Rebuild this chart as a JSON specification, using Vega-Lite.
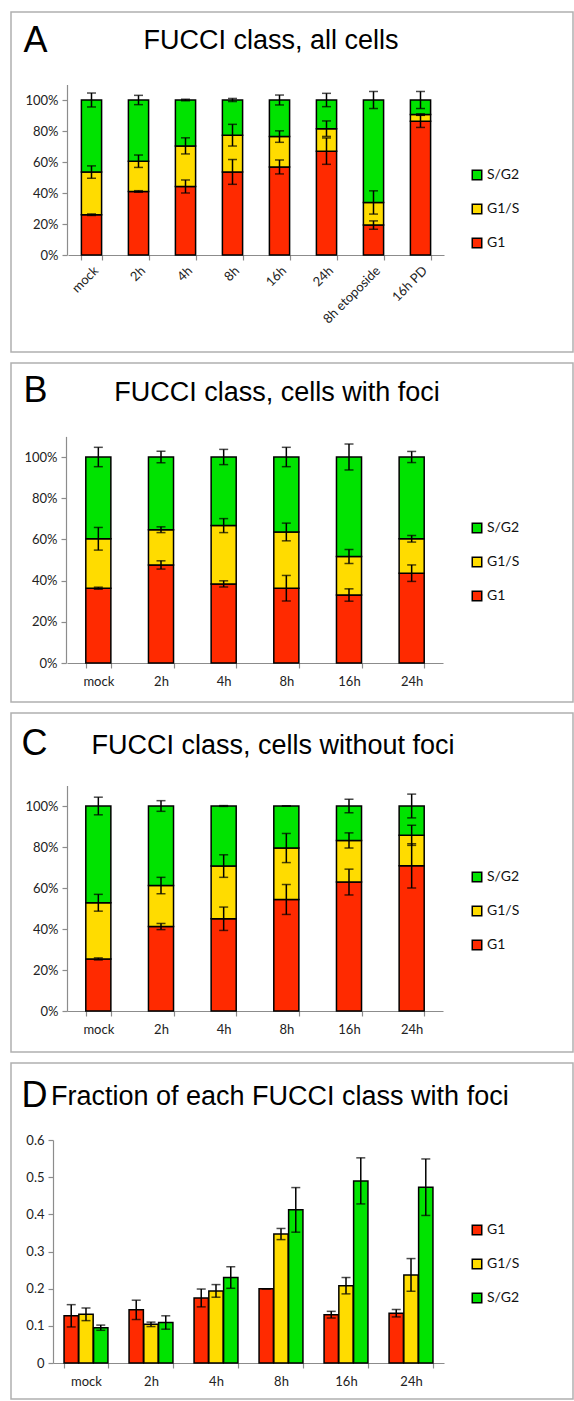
{
  "$schema": "https://vega.github.io/schema/vega-lite/v6.json",
  "padding": {"left": 10, "top": 11, "right": 0, "bottom": 0},
  "autosize": {"type": "pad"},
  "spacing": 9,
  "datasets": {
    "A": [
      {"t":"mock","cls":"G1","v":0.26,"err":0.005},
      {"t":"mock","cls":"G1/S","v":0.275,"err":0.04},
      {"t":"mock","cls":"S/G2","v":0.465,"err":0.045},
      {"t":"2h","cls":"G1","v":0.41,"err":0.005},
      {"t":"2h","cls":"G1/S","v":0.195,"err":0.04},
      {"t":"2h","cls":"S/G2","v":0.395,"err":0.03},
      {"t":"4h","cls":"G1","v":0.442,"err":0.042},
      {"t":"4h","cls":"G1/S","v":0.262,"err":0.052},
      {"t":"4h","cls":"S/G2","v":0.296,"err":0.005},
      {"t":"8h","cls":"G1","v":0.536,"err":0.08},
      {"t":"8h","cls":"G1/S","v":0.237,"err":0.07},
      {"t":"8h","cls":"S/G2","v":0.227,"err":0.01},
      {"t":"16h","cls":"G1","v":0.568,"err":0.045},
      {"t":"16h","cls":"G1/S","v":0.196,"err":0.037},
      {"t":"16h","cls":"S/G2","v":0.236,"err":0.032},
      {"t":"24h","cls":"G1","v":0.67,"err":0.085},
      {"t":"24h","cls":"G1/S","v":0.145,"err":0.05},
      {"t":"24h","cls":"S/G2","v":0.185,"err":0.043},
      {"t":"8h etoposide","cls":"G1","v":0.193,"err":0.027},
      {"t":"8h etoposide","cls":"G1/S","v":0.146,"err":0.075},
      {"t":"8h etoposide","cls":"S/G2","v":0.661,"err":0.055},
      {"t":"16h PD","cls":"G1","v":0.863,"err":0.04},
      {"t":"16h PD","cls":"G1/S","v":0.043,"err":0.005},
      {"t":"16h PD","cls":"S/G2","v":0.094,"err":0.055}
    ],
    "B": [
      {"t":"mock","cls":"G1","v":0.363,"err":0.005},
      {"t":"mock","cls":"G1/S","v":0.24,"err":0.055},
      {"t":"mock","cls":"S/G2","v":0.397,"err":0.047},
      {"t":"2h","cls":"G1","v":0.476,"err":0.02},
      {"t":"2h","cls":"G1/S","v":0.171,"err":0.014},
      {"t":"2h","cls":"S/G2","v":0.353,"err":0.028},
      {"t":"4h","cls":"G1","v":0.384,"err":0.015},
      {"t":"4h","cls":"G1/S","v":0.283,"err":0.034},
      {"t":"4h","cls":"S/G2","v":0.333,"err":0.037},
      {"t":"8h","cls":"G1","v":0.363,"err":0.062},
      {"t":"8h","cls":"G1/S","v":0.273,"err":0.043},
      {"t":"8h","cls":"S/G2","v":0.364,"err":0.047},
      {"t":"16h","cls":"G1","v":0.33,"err":0.03},
      {"t":"16h","cls":"G1/S","v":0.187,"err":0.034},
      {"t":"16h","cls":"S/G2","v":0.483,"err":0.063},
      {"t":"24h","cls":"G1","v":0.436,"err":0.04},
      {"t":"24h","cls":"G1/S","v":0.167,"err":0.016},
      {"t":"24h","cls":"S/G2","v":0.397,"err":0.027}
    ],
    "C": [
      {"t":"mock","cls":"G1","v":0.254,"err":0.005},
      {"t":"mock","cls":"G1/S","v":0.274,"err":0.041},
      {"t":"mock","cls":"S/G2","v":0.472,"err":0.043},
      {"t":"2h","cls":"G1","v":0.412,"err":0.015},
      {"t":"2h","cls":"G1/S","v":0.2,"err":0.04},
      {"t":"2h","cls":"S/G2","v":0.388,"err":0.026},
      {"t":"4h","cls":"G1","v":0.45,"err":0.057},
      {"t":"4h","cls":"G1/S","v":0.257,"err":0.055},
      {"t":"4h","cls":"S/G2","v":0.293,"err":0.002},
      {"t":"8h","cls":"G1","v":0.544,"err":0.073},
      {"t":"8h","cls":"G1/S","v":0.251,"err":0.071},
      {"t":"8h","cls":"S/G2","v":0.205,"err":0},
      {"t":"16h","cls":"G1","v":0.629,"err":0.063},
      {"t":"16h","cls":"G1/S","v":0.203,"err":0.037},
      {"t":"16h","cls":"S/G2","v":0.168,"err":0.033},
      {"t":"24h","cls":"G1","v":0.708,"err":0.108},
      {"t":"24h","cls":"G1/S","v":0.149,"err":0.049},
      {"t":"24h","cls":"S/G2","v":0.143,"err":0.058}
    ],
    "D": [
      {"t":"mock","cls":"G1","v":0.127,"err":0.03},
      {"t":"mock","cls":"G1/S","v":0.131,"err":0.017},
      {"t":"mock","cls":"S/G2","v":0.095,"err":0.007},
      {"t":"2h","cls":"G1","v":0.143,"err":0.026},
      {"t":"2h","cls":"G1/S","v":0.104,"err":0.006},
      {"t":"2h","cls":"S/G2","v":0.109,"err":0.018},
      {"t":"4h","cls":"G1","v":0.175,"err":0.024},
      {"t":"4h","cls":"G1/S","v":0.194,"err":0.017},
      {"t":"4h","cls":"S/G2","v":0.23,"err":0.029},
      {"t":"8h","cls":"G1","v":0.2,"err":0},
      {"t":"8h","cls":"G1/S","v":0.347,"err":0.015},
      {"t":"8h","cls":"S/G2","v":0.412,"err":0.06},
      {"t":"16h","cls":"G1","v":0.13,"err":0.009},
      {"t":"16h","cls":"G1/S","v":0.208,"err":0.022},
      {"t":"16h","cls":"S/G2","v":0.49,"err":0.062},
      {"t":"24h","cls":"G1","v":0.134,"err":0.01},
      {"t":"24h","cls":"G1/S","v":0.237,"err":0.044},
      {"t":"24h","cls":"S/G2","v":0.473,"err":0.076}
    ]
  },
  "vconcat": [
    {
      "width": 562, "height": 340,
      "title": {"text": "FUCCI class, all cells", "dx": -21, "dy": 47},
      "data": {"name": "A"},
      "transform": [{"stack": "v", "groupby": ["t"], "sort": [{"field": "cls", "order": "ascending"}], "as": ["v0", "v1"]}],
      "encoding": {
        "x": {"field": "t", "type": "nominal", "sort": ["mock","2h","4h","8h","16h","24h","8h etoposide","16h PD"],
          "scale": {"range": [57, 433], "paddingInner": 0.57, "paddingOuter": 0.285},
          "axis": {"title": null, "offset": -97, "tickBand": "extent", "labelAngle": -45, "labelPadding": 4}},
        "y": {"field": "v1", "type": "quantitative", "scale": {"domain": [0, 1.1], "range": [243, 72.5], "nice": false},
          "axis": {"title": "A", "values": [0, 0.2, 0.4, 0.6, 0.8, 1], "format": ".0%", "offset": -56,
            "titleAngle": 0, "titleAlign": "left", "titleBaseline": "alphabetic", "titleX": -44, "titleY": 39,
            "titleFont": "Liberation Sans", "titleFontSize": 36, "titleFontWeight": "normal", "titleColor": "#000"}}
      },
      "layer": [
        {"mark": {"type": "bar"},
         "encoding": {
           "y2": {"field": "v0"},
           "color": {"field": "cls", "type": "nominal", "scale": {"domain": ["S/G2", "G1/S", "G1"], "range": ["#00e300", "#ffdc00", "#ff2a00"]},
             "legend": {"title": null, "orient": "none", "legendX": 459, "legendY": 156}}
         }},
        {"mark": {"type": "errorbar", "ticks": true, "size": 9, "thickness": 1.5, "color": "#000"},
         "encoding": {"yError": {"field": "err"}}}
      ]
    },
    {
      "width": 562, "height": 339,
      "title": {"text": "FUCCI class, cells with foci", "dx": -15, "dy": 48},
      "data": {"name": "B"},
      "transform": [{"stack": "v", "groupby": ["t"], "sort": [{"field": "cls", "order": "ascending"}], "as": ["v0", "v1"]}],
      "encoding": {
        "x": {"field": "t", "type": "nominal", "sort": ["mock","2h","4h","8h","16h","24h"],
          "scale": {"range": [56, 432], "paddingInner": 0.6, "paddingOuter": 0.3},
          "axis": {"title": null, "offset": -39, "tickBand": "extent", "labelAngle": 0, "labelPadding": 7}},
        "y": {"field": "v1", "type": "quantitative", "scale": {"domain": [0, 1.1], "range": [300, 73.4], "nice": false},
          "axis": {"title": "B", "values": [0, 0.2, 0.4, 0.6, 0.8, 1], "format": ".0%", "offset": -55,
            "titleAngle": 0, "titleAlign": "left", "titleBaseline": "alphabetic", "titleX": -43, "titleY": 38,
            "titleFont": "Liberation Sans", "titleFontSize": 36, "titleFontWeight": "normal", "titleColor": "#000"}}
      },
      "layer": [
        {"mark": {"type": "bar"},
         "encoding": {
           "y2": {"field": "v0"},
           "color": {"field": "cls", "type": "nominal", "scale": {"domain": ["S/G2", "G1/S", "G1"], "range": ["#00e300", "#ffdc00", "#ff2a00"]},
             "legend": {"title": null, "orient": "none", "legendX": 459, "legendY": 158}}
         }},
        {"mark": {"type": "errorbar", "ticks": true, "size": 9, "thickness": 1.5, "color": "#000"},
         "encoding": {"yError": {"field": "err"}}}
      ]
    },
    {
      "width": 562, "height": 339,
      "title": {"text": "FUCCI class, cells without foci", "dx": -19, "dy": 51},
      "data": {"name": "C"},
      "transform": [{"stack": "v", "groupby": ["t"], "sort": [{"field": "cls", "order": "ascending"}], "as": ["v0", "v1"]}],
      "encoding": {
        "x": {"field": "t", "type": "nominal", "sort": ["mock","2h","4h","8h","16h","24h"],
          "scale": {"range": [56, 432], "paddingInner": 0.6, "paddingOuter": 0.3},
          "axis": {"title": null, "offset": -41, "tickBand": "extent", "labelAngle": 0, "labelPadding": 7}},
        "y": {"field": "v1", "type": "quantitative", "scale": {"domain": [0, 1.1], "range": [298, 72.5], "nice": false},
          "axis": {"title": "C", "values": [0, 0.2, 0.4, 0.6, 0.8, 1], "format": ".0%", "offset": -56,
            "titleAngle": 0, "titleAlign": "left", "titleBaseline": "alphabetic", "titleX": -46, "titleY": 41,
            "titleFont": "Liberation Sans", "titleFontSize": 36, "titleFontWeight": "normal", "titleColor": "#000"}}
      },
      "layer": [
        {"mark": {"type": "bar"},
         "encoding": {
           "y2": {"field": "v0"},
           "color": {"field": "cls", "type": "nominal", "scale": {"domain": ["S/G2", "G1/S", "G1"], "range": ["#00e300", "#ffdc00", "#ff2a00"]},
             "legend": {"title": null, "orient": "none", "legendX": 459, "legendY": 157}}
         }},
        {"mark": {"type": "errorbar", "ticks": true, "size": 9, "thickness": 1.5, "color": "#000"},
         "encoding": {"yError": {"field": "err"}}}
      ]
    },
    {
      "width": 562, "height": 336,
      "title": {"text": "Fraction of each FUCCI class with foci", "anchor": "start", "dx": 40, "dy": 52},
      "data": {"name": "D"},
      "encoding": {
        "x": {"field": "t", "type": "nominal", "sort": ["mock","2h","4h","8h","16h","24h"],
          "scale": {"range": [42, 433], "paddingInner": 0.325, "paddingOuter": 0.17},
          "axis": {"title": null, "offset": -36, "tickBand": "extent", "labelAngle": 0, "labelPadding": 7}},
        "xOffset": {"field": "cls", "type": "nominal", "sort": ["G1", "G1/S", "S/G2"], "scale": {"paddingInner": 0.03}},
        "y": {"field": "v", "type": "quantitative", "scale": {"domain": [0, 0.6], "range": [300, 77], "nice": false},
          "axis": {"title": "D", "values": [0, 0.1, 0.2, 0.3, 0.4, 0.5, 0.6], "format": "~g", "offset": -42,
            "titleAngle": 0, "titleAlign": "left", "titleBaseline": "alphabetic", "titleX": -32, "titleY": 43,
            "titleFont": "Liberation Sans", "titleFontSize": 36, "titleFontWeight": "normal", "titleColor": "#000"}}
      },
      "layer": [
        {"mark": {"type": "bar"},
         "encoding": {
           "color": {"field": "cls", "type": "nominal", "scale": {"domain": ["G1", "G1/S", "S/G2"], "range": ["#ff2a00", "#ffdc00", "#00e300"]},
             "legend": {"title": null, "orient": "none", "legendX": 459, "legendY": 160}}
         }},
        {"mark": {"type": "errorbar", "ticks": true, "size": 9, "thickness": 1.5, "color": "#000"},
         "encoding": {"yError": {"field": "err"}}}
      ]
    }
  ],
  "resolve": {"scale": {"color": "independent"}},
  "config": {
    "font": "Lato",
    "view": {"stroke": "#b0b0b0", "strokeWidth": 1.5},
    "axis": {"labelFont": "Lato", "labelFontSize": 13, "labelColor": "#222", "domainColor": "#8c8c8c", "tickColor": "#8c8c8c", "tickSize": 5, "grid": false, "domainWidth": 1.2, "tickWidth": 1.2, "labelPadding": 4},
    "legend": {"symbolType": "square", "symbolSize": 90, "symbolStrokeColor": "#000", "symbolStrokeWidth": 1.5, "labelFont": "Lato", "labelFontSize": 14, "labelColor": "#111", "rowPadding": 18, "labelOffset": 3, "padding": 0},
    "title": {"font": "Liberation Sans", "fontSize": 27, "fontWeight": "normal", "color": "#000", "frame": "group", "baseline": "alphabetic", "offset": 0},
    "bar": {"stroke": "#000", "strokeWidth": 1.5}
  }
}
